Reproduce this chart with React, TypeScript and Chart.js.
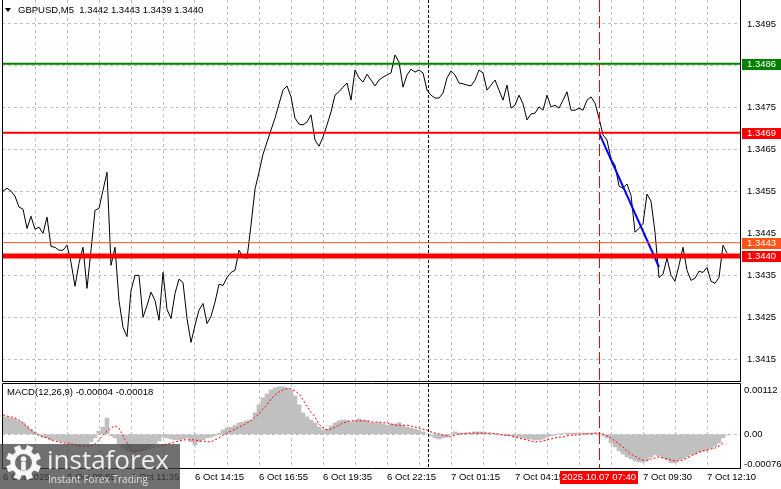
import React, { useEffect, useRef } from 'react';
import { Chart, registerables } from 'chart.js';

Chart.register(...registerables);

// ---------------- data ----------------
const TITLE = 'GBPUSD,M5  1.3442 1.3443 1.3439 1.3440';
const MACD_TITLE = 'MACD(12,26,9) -0.00004 -0.00018';

// close price, one value per 10 minutes (two M5 bars)
const CLOSE: number[] = [
  1.34551, 1.34558, 1.34551, 1.34539, 1.34513, 1.34508, 1.34462, 1.34491, 1.3446, 1.34465,
  1.3445, 1.34489, 1.34419, 1.34417, 1.3441, 1.3441, 1.34422, 1.34381, 1.34324, 1.34379,
  1.34417, 1.34319, 1.3441, 1.34505, 1.3451, 1.34553, 1.34596, 1.34374, 1.34417, 1.3429,
  1.34226, 1.34204, 1.34314, 1.3435, 1.3435, 1.3425, 1.34278, 1.3431, 1.3429, 1.34243,
  1.34357, 1.34269, 1.34247, 1.34307, 1.34341, 1.34333, 1.34247, 1.3419, 1.34231, 1.34267,
  1.34283, 1.34235, 1.34252, 1.34286, 1.34329, 1.34326, 1.34345, 1.34357, 1.34362, 1.3441,
  1.34393, 1.34391, 1.3447, 1.34556, 1.34596, 1.34639, 1.34668, 1.34697, 1.34725, 1.34759,
  1.34792, 1.34802, 1.34776, 1.34725, 1.34711, 1.34709, 1.34716, 1.34733, 1.34673, 1.34658,
  1.3468, 1.34709, 1.3474, 1.3478, 1.34788, 1.34799, 1.34809, 1.34768, 1.3484, 1.34821,
  1.34811, 1.3483, 1.34816, 1.34802, 1.34816, 1.34823, 1.34828, 1.34833, 1.34876, 1.34859,
  1.34799, 1.34828, 1.34842, 1.34835, 1.3484, 1.34833, 1.34792, 1.3478, 1.34773, 1.34773,
  1.34785, 1.34821, 1.34838, 1.34828, 1.34809, 1.34807, 1.34804, 1.34802, 1.34816, 1.3484,
  1.34833, 1.34792, 1.34804, 1.34816, 1.34792, 1.34768, 1.34804, 1.34749, 1.34756, 1.3478,
  1.34759, 1.34721, 1.34735, 1.34737, 1.34752, 1.34744, 1.3478, 1.34752, 1.34756, 1.34749,
  1.34768, 1.34788, 1.34744, 1.34744, 1.34749, 1.34744, 1.34768, 1.34776, 1.34761, 1.34725,
  1.34685, 1.34673, 1.34627, 1.34613, 1.34563, 1.34558, 1.34568, 1.34541, 1.34453, 1.34462,
  1.34474, 1.34544, 1.34527, 1.34453, 1.34345, 1.34353, 1.34391, 1.3435, 1.34336, 1.34374,
  1.34417, 1.34362, 1.34338, 1.34343, 1.3436, 1.34357, 1.34369, 1.34336, 1.34331, 1.34345,
  1.34422, 1.34403,
];

// MACD main line (histogram) in units of 0.00001
const MACD_HIST_E5: number[] = [
  44, 44, 41, 39, 33, 29, 21, 13, 6, -2,
  -7, -9, -14, -14, -17, -19, -22, -24, -24, -27,
  -24, -24, -19, -9, 8, 18, 41, -4, -9, -24,
  -35, -40, -45, -45, -42, -40, -35, -30, -24, -17,
  -7, -9, -12, -14, -14, -12, -9, -19, -27, -19,
  -14, -9, -7, -4, 3, 11, 16, 18, 23, 29,
  31, 34, 36, 54, 74, 92, 102, 112, 117, 120,
  120, 117, 112, 97, 74, 54, 44, 36, 29, 18,
  11, 13, 21, 29, 34, 36, 36, 31, 34, 39,
  36, 34, 29, 29, 29, 26, 23, 26, 26, 29,
  23, 18, 16, 13, 11, 6, 1, -4, -9, -12,
  -9, -7, -2, 6, 3, 3, 3, 3, 6, 6,
  6, 3, 1, 1, -2, -2, -4, -4, -7, -7,
  -9, -12, -12, -14, -14, -12, -7, -4, -2, 1,
  1, 3, 3, 3, 3, 3, 3, 3, 3, 1,
  -4, -9, -22, -32, -42, -50, -57, -62, -67, -70,
  -70, -65, -57, -52, -55, -60, -65, -72, -72, -65,
  -62, -57, -52, -50, -45, -42, -40, -35, -30, -22,
  -9, -2,
];

// MACD signal line in units of 0.00001
const MACD_SIGNAL_E5: (number | null)[] = [
  49, 46, 44, 41, 36, 29, 18, 11, 3, -2,
  -7, -9, -14, -17, -19, -22, -22, -24, -27, -30,
  -30, -30, -30, -24, -14, -2, 8, 16, 21, 16,
  -4, -22, -37, -45, -42, -40, -37, -35, -32, -30,
  -27, -24, -22, -19, -17, -14, -14, -14, -14, -17,
  -17, -19, -19, -14, -9, -2, 3, 8, 13, 18,
  23, 29, 34, 44, 51, 64, 74, 89, 99, 107,
  112, 115, 115, 109, 102, 87, 71, 56, 44, 26,
  16, 11, 13, 18, 23, 29, 31, 34, 34, 34,
  34, 34, 31, 31, 31, 29, 29, 26, 23, 23,
  23, 23, 21, 18, 16, 13, 11, 6, 3, 1,
  -2, -4, -7, -2, 1, 1, 3, 3, 3, 3,
  3, 3, 3, 1, 1, -2, -2, -4, -7, -9,
  -12, -14, -17, -19, -19, -17, -14, -12, -9, -7,
  -7, -4, -2, -2, -2, 1, 1, 1, 3, 3,
  1, -4, -9, -17, -24, -32, -42, -50, -55, -62,
  -65, -67, -62, -60, -57, -60, -62, -65, -67, -67,
  -65, -60, -55, -50, -45, -42, -40, -37, -35, -30,
  -22, null,
];

const PRICE_TICKS = [1.3415, 1.3425, 1.3435, 1.3445, 1.3455, 1.3465, 1.3475, 1.3485, 1.3495];
const GRID_INDEX = [0, 8, 16, 24, 32, 40, 48, 56, 64, 72, 80, 88, 96, 104, 112, 120, 128, 136, 144, 152, 160, 168, 176];
const TIME_INDEX = [0, 16, 32, 48, 64, 80, 96, 112, 128, 144, 160, 176];
const TIME_LABELS = [
  '6 Oct 2025', '6 Oct 08:55', '6 Oct 11:35', '6 Oct 14:15', '6 Oct 16:55', '6 Oct 19:35',
  '6 Oct 22:15', '7 Oct 01:15', '7 Oct 04:15', '7 Oct 06:55', '7 Oct 09:30', '7 Oct 12:10',
];
const MACD_TICKS = [0.00112, 0, -0.00076];
const MACD_TICK_LABELS = ['0.00112', '0.00', '-0.00076'];

const LEVEL_PRICES = [1.34855, 1.3469, 1.34428, 1.34396];
const LEVEL_LABELS = ['1.3486', '1.3469', '1.3443', '1.3440'];
const LEVEL_COLORS = ['#008000', '#ff0000', '#ff5414', '#ff0000'];
const LEVEL_WIDTHS = [2, 2, 1, 5];

const TREND_INDEX = [149, 164];
const TREND_PRICE = [1.3469, 1.3437];

const CURSOR_INDEX = 149;
const CURSOR_LABEL = '2025.10.07 07:40';
const DAY_SEPARATOR_INDEX = 106.25;

// axis ranges
const X_MIN = -0.25;
const X_MAX = 184.25;
const PRICE_MIN = 1.34098;
const PRICE_MAX = 1.35007;
const MACD_MIN = -0.000851;
const MACD_MAX = 0.00127;

// ---------------- style ----------------
const FONT = '"Liberation Sans", Arial, sans-serif';
const FONT_SIZE = 9.5;
const GRID_COLOR = '#c0c0c0';
const MACD_TOP = 382;

function vline(ctx: any, x: number, y0: number, y1: number) {
  ctx.beginPath();
  ctx.moveTo(x, y0);
  ctx.lineTo(x, y1);
  ctx.stroke();
}
function hline(ctx: any, y: number, x0: number, x1: number) {
  ctx.beginPath();
  ctx.moveTo(x0, y);
  ctx.lineTo(x1, y);
  ctx.stroke();
}

function noPad(s: any) {
  s.paddingTop = 0;
  s.paddingBottom = 0;
  s.paddingLeft = 0;
  s.paddingRight = 0;
}

function drawVerticalMarkers(chart: any) {
  const { ctx, chartArea: a, scales } = chart;
  ctx.save();
  ctx.beginPath();
  ctx.rect(a.left, a.top, a.right - a.left, a.bottom - a.top);
  ctx.clip();
  ctx.lineWidth = 1;
  const xs = Math.round(scales.x.getPixelForValue(DAY_SEPARATOR_INDEX)) + 0.5;
  ctx.strokeStyle = '#000000';
  ctx.setLineDash([3, 2]);
  vline(ctx, xs, a.top, a.bottom);
  const xc = Math.round(scales.x.getPixelForValue(CURSOR_INDEX)) + 0.5;
  ctx.strokeStyle = '#ff0000';
  ctx.setLineDash([12, 4]);
  vline(ctx, xc, a.top, a.bottom);
  ctx.restore();
}

function drawFrame(ctx: any, a: any, withTop: boolean) {
  ctx.save();
  ctx.strokeStyle = '#000';
  ctx.lineWidth = 1;
  ctx.setLineDash([]);
  const l = a.left + 0.5;
  const r = a.right + 0.5;
  const b = a.bottom + 0.5;
  const t = withTop ? a.top - 0.5 : 0;
  vline(ctx, l, t, b);
  vline(ctx, r, t, b + 0.5);
  hline(ctx, b, l, r);
  if (withTop) hline(ctx, t, l, r);
  ctx.restore();
}

const mainDecor = {
  id: 'mainDecor',
  afterDatasetsDraw(chart: any) {
    drawVerticalMarkers(chart);
    const { ctx, chartArea: a, scales } = chart;
    ctx.save();
    ctx.beginPath();
    ctx.rect(a.left, a.top, a.right - a.left, a.bottom - a.top);
    ctx.clip();
    ctx.setLineDash([]);
    LEVEL_PRICES.forEach((p, i) => {
      const y = scales.y.getPixelForValue(p);
      ctx.strokeStyle = LEVEL_COLORS[i];
      ctx.lineWidth = LEVEL_WIDTHS[i];
      hline(ctx, y, a.left, a.right);
    });
    ctx.restore();
  },
  afterDraw(chart: any) {
    const { ctx, chartArea: a, scales } = chart;
    drawFrame(ctx, a, false);
    ctx.save();
    // title
    ctx.fillStyle = '#000';
    ctx.beginPath();
    ctx.moveTo(5, 8);
    ctx.lineTo(11, 8);
    ctx.lineTo(8, 12);
    ctx.closePath();
    ctx.fill();
    ctx.font = `${FONT_SIZE}px ${FONT}`;
    ctx.textBaseline = 'middle';
    ctx.textAlign = 'left';
    ctx.fillText(TITLE, 18, 10.5);
    // level label boxes
    LEVEL_PRICES.forEach((p, i) => {
      const y = scales.y.getPixelForValue(p);
      ctx.fillStyle = LEVEL_COLORS[i];
      ctx.fillRect(a.right + 2, Math.round(y) - 5, 781 - a.right - 2, 11);
      ctx.fillStyle = '#ffffff';
      ctx.fillText(LEVEL_LABELS[i], a.right + 7, Math.round(y) + 0.5);
    });
    ctx.restore();
  },
};

function drawLogo(ctx: any) {
  const off = MACD_TOP;
  ctx.save();
  ctx.fillStyle = 'rgba(64,64,64,0.75)';
  ctx.fillRect(0, 444 - off, 180, 489 - 444);
  // gear
  const cx = 23.5;
  const cy = 462.5 - off;
  ctx.fillStyle = 'rgba(255,255,255,0.93)';
  ctx.beginPath();
  ctx.arc(cx, cy, 13, 0, Math.PI * 2);
  ctx.fill();
  for (let k = 0; k < 8; k++) {
    ctx.save();
    ctx.translate(cx, cy);
    ctx.rotate((k * Math.PI) / 4 + Math.PI / 8);
    ctx.fillRect(-3.2, -17.5, 6.4, 7);
    ctx.restore();
  }
  ctx.fillStyle = 'rgb(110,110,110)';
  ctx.beginPath();
  ctx.arc(cx, cy, 8.5, 0, Math.PI * 2);
  ctx.fill();
  ctx.fillStyle = 'rgba(255,255,255,0.93)';
  ctx.beginPath();
  ctx.arc(cx, cy - 3.5, 2.8, 0, Math.PI * 2);
  ctx.fill();
  ctx.fillRect(cx - 2.3, cy - 0.5, 4.6, 8.5);
  // text
  ctx.textAlign = 'left';
  ctx.textBaseline = 'alphabetic';
  ctx.fillStyle = 'rgba(255,255,255,0.9)';
  ctx.font = '26px "Open Sans", sans-serif';
  ctx.fillText('instaforex', 47, 469 - off, 127);
  ctx.fillStyle = 'rgba(255,255,255,0.8)';
  ctx.font = '10.5px "Open Sans", sans-serif';
  ctx.fillText('Instant Forex Trading', 48, 483 - off, 100);
  ctx.restore();
}

const macdDecor = {
  id: 'macdDecor',
  afterDatasetsDraw(chart: any) {
    drawVerticalMarkers(chart);
  },
  afterDraw(chart: any) {
    const { ctx, chartArea: a, scales } = chart;
    drawFrame(ctx, a, true);
    ctx.save();
    ctx.font = `${FONT_SIZE}px ${FONT}`;
    ctx.textBaseline = 'middle';
    ctx.textAlign = 'left';
    ctx.fillStyle = '#000';
    ctx.fillText(MACD_TITLE, 7, 392 - MACD_TOP);
    // cursor time box
    const xc = Math.round(scales.x.getPixelForValue(CURSOR_INDEX));
    ctx.fillStyle = '#ff0000';
    ctx.fillRect(xc - 39, 471 - MACD_TOP, 78, 13);
    ctx.fillStyle = '#ffffff';
    ctx.textAlign = 'center';
    ctx.fillText(CURSOR_LABEL, xc, 477.5 - MACD_TOP);
    ctx.restore();
    drawLogo(ctx);
  },
};

export default function App() {
  const mainRef = useRef<HTMLCanvasElement>(null);
  const macdRef = useRef<HTMLCanvasElement>(null);

  useEffect(() => {
    Chart.defaults.font.family = FONT;
    Chart.defaults.font.size = FONT_SIZE;
    Chart.defaults.color = '#000';

    const xScale = (withLabels: boolean, height: number) => ({
      type: 'linear',
      min: X_MIN,
      max: X_MAX,
      offset: false,
      afterBuildTicks: (s: any) => {
        s.ticks = GRID_INDEX.map((v) => ({ value: v }));
      },
      afterFit: (s: any) => {
        s.height = height;
        noPad(s);
      },
      ticks: {
        display: withLabels,
        autoSkip: false,
        maxRotation: 0,
        minRotation: 0,
        align: 'start',
        padding: 4,
        color: '#000',
        font: { family: FONT, size: FONT_SIZE },
        callback: (v: any) => {
          const k = TIME_INDEX.indexOf(Number(v));
          return k >= 0 ? TIME_LABELS[k] : '';
        },
      },
      grid: {
        color: (c: any) => (c.tick && c.tick.value === 0 ? 'rgba(0,0,0,0)' : GRID_COLOR),
        drawTicks: false,
        offset: false,
      },
      border: { display: false, dash: [3, 3] },
    });

    const main = new Chart(mainRef.current as HTMLCanvasElement, {
      type: 'line',
      data: {
        datasets: [
          {
            label: 'trend',
            data: TREND_INDEX.map((x, i) => ({ x, y: TREND_PRICE[i] })),
            borderColor: '#0000ff',
            borderWidth: 2,
            pointRadius: 0,
            order: 0,
          },
          {
            label: 'close',
            data: CLOSE.map((y, j) => ({ x: j, y })),
            borderColor: '#000000',
            borderWidth: 1,
            pointRadius: 0,
            tension: 0,
            order: 1,
          },
        ],
      },
      options: {
        responsive: false,
        animation: false,
        devicePixelRatio: 1,
        events: [],
        layout: { padding: { left: 2, right: 0, top: 0, bottom: 1 } },
        plugins: { legend: { display: false }, tooltip: { enabled: false } },
        scales: {
          x: xScale(false, 0) as any,
          y: {
            type: 'linear',
            position: 'right',
            min: PRICE_MIN,
            max: PRICE_MAX,
            afterBuildTicks: (s: any) => {
              s.ticks = PRICE_TICKS.map((v) => ({ value: v }));
            },
            afterFit: (s: any) => {
              s.width = 41;
              noPad(s);
            },
            ticks: {
              padding: 7,
              autoSkip: false,
              color: '#000',
              font: { family: FONT, size: FONT_SIZE },
              callback: (v: any) => Number(v).toFixed(4),
            },
            grid: { color: GRID_COLOR, drawTicks: false },
            border: { display: false, dash: [3, 3] },
          },
        },
      },
      plugins: [mainDecor],
    } as any);

    const macd = new Chart(macdRef.current as HTMLCanvasElement, {
      type: 'bar',
      data: {
        datasets: [
          {
            type: 'line',
            label: 'signal',
            data: MACD_SIGNAL_E5.map((v, j) => ({ x: j, y: v === null ? null : v / 1e5 })),
            borderColor: '#ff0000',
            borderWidth: 1,
            borderDash: [2, 2],
            pointRadius: 0,
            tension: 0,
            order: 0,
          },
          {
            type: 'bar',
            label: 'macd',
            data: MACD_HIST_E5.map((v, j) => ({ x: j, y: v / 1e5 })),
            backgroundColor: '#c0c0c0',
            borderWidth: 0,
            barPercentage: 1,
            categoryPercentage: 1,
            order: 1,
          },
        ],
      },
      options: {
        responsive: false,
        animation: false,
        devicePixelRatio: 1,
        events: [],
        layout: { padding: { left: 2, right: 0, top: 2, bottom: 0 } },
        plugins: { legend: { display: false }, tooltip: { enabled: false } },
        scales: {
          x: xScale(true, 21) as any,
          y: {
            type: 'linear',
            position: 'right',
            min: MACD_MIN,
            max: MACD_MAX,
            afterBuildTicks: (s: any) => {
              s.ticks = MACD_TICKS.map((v) => ({ value: v }));
            },
            afterFit: (s: any) => {
              s.width = 41;
              noPad(s);
            },
            ticks: {
              padding: 4,
              autoSkip: false,
              color: '#000',
              font: { family: FONT, size: FONT_SIZE },
              callback: (v: any) => {
                const k = MACD_TICKS.indexOf(Number(v));
                return k >= 0 ? MACD_TICK_LABELS[k] : '';
              },
            },
            grid: {
              color: (c: any) => (c.tick && c.tick.value === 0 ? GRID_COLOR : 'rgba(0,0,0,0)'),
              drawTicks: false,
            },
            border: { display: false, dash: [3, 3] },
          },
        },
      },
      plugins: [macdDecor],
    } as any);

    return () => {
      main.destroy();
      macd.destroy();
    };
  }, []);

  return (
    <div style={{ position: 'absolute', left: 0, top: 0, width: 781, height: 489, background: '#ffffff', overflow: 'hidden' }}>
      <canvas ref={mainRef} width={781} height={382} style={{ position: 'absolute', left: 0, top: 0 }} />
      <canvas ref={macdRef} width={781} height={107} style={{ position: 'absolute', left: 0, top: MACD_TOP }} />
    </div>
  );
}
